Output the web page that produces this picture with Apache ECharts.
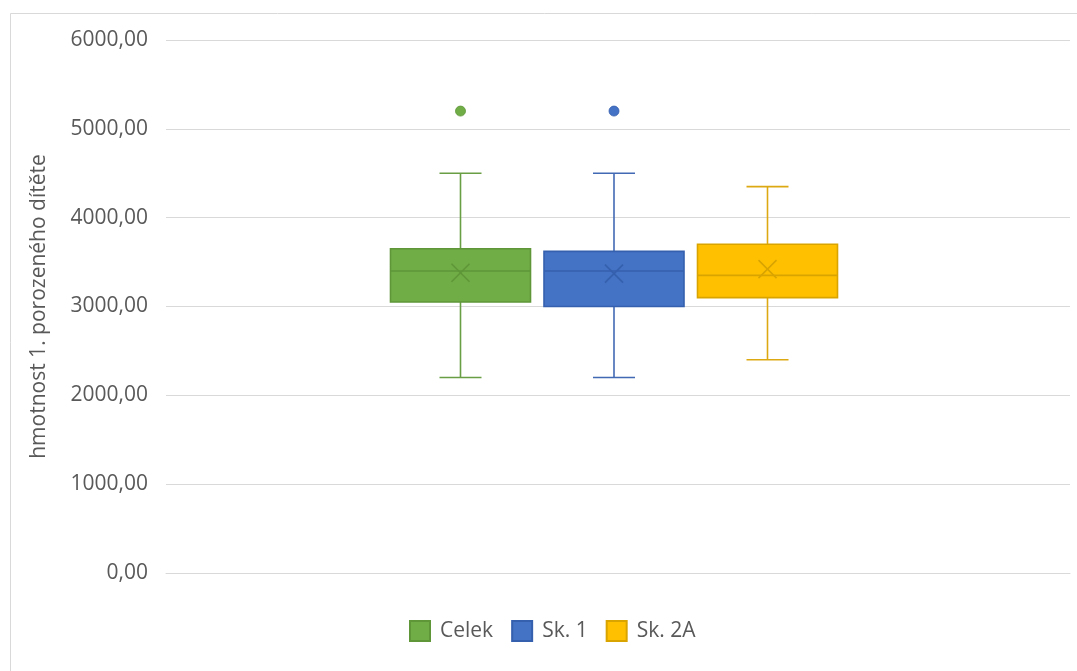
<!DOCTYPE html>
<html>
<head>
<meta charset="utf-8">
<script src="https://cdn.jsdelivr.net/npm/echarts@6/dist/echarts.min.js"></script>
<style>html,body{margin:0;padding:0;background:#fff;}#c{width:1077px;height:671px;}</style>
</head>
<body>
<div id="c"></div>
<script>
// Data
const categories = [''];
const seriesNames = ['Celek', 'Sk. 1', 'Sk. 2A'];
// [min, Q1, median, Q3, max, mean]
const celekStats = [2200, 3050, 3400, 3650, 4500, 3380];
const sk1Stats   = [2200, 3000, 3400, 3620, 4500, 3370];
const sk2aStats  = [2400, 3100, 3350, 3700, 4350, 3420];
const celekOutliers = [5200];
const sk1Outliers   = [5200];
const sk2aOutliers  = [];
const yTicks = { min: 0, max: 6000, interval: 1000 };

const fills    = ['#70AD47', '#4472C4', '#FFC000'];
const borders  = ['#5E9638', '#3560AE', '#D9A400'];
const whiskers = ['#6A9E44', '#4269B4', '#DCA912'];
const offsets  = [-157.5, -4, 149.5];
const boxW = 140, capW = 42;

const statsList = [celekStats, sk1Stats, sk2aStats];
const outList = [celekOutliers, sk1Outliers, sk2aOutliers];

function makeRender(idx) {
  return function (params, api) {
    const cx = api.coord([api.value(0), 0])[0] + offsets[idx];
    const y = v => api.coord([api.value(0), v])[1];
    const yMin = y(api.value(1)), yQ1 = y(api.value(2)), yMed = y(api.value(3)),
          yQ3 = y(api.value(4)), yMax = y(api.value(5)), yMean = y(api.value(6));
    const hw = boxW / 2, hc = capW / 2, m = 9;
    const wl = { stroke: whiskers[idx], lineWidth: 1.6 };
    const bl = { stroke: borders[idx], lineWidth: 1.6 };
    const children = [
      { type: 'line', shape: { x1: cx, y1: yQ3, x2: cx, y2: yMax }, style: wl },
      { type: 'line', shape: { x1: cx, y1: yQ1, x2: cx, y2: yMin }, style: wl },
      { type: 'line', shape: { x1: cx - hc, y1: yMax, x2: cx + hc, y2: yMax }, style: wl },
      { type: 'line', shape: { x1: cx - hc, y1: yMin, x2: cx + hc, y2: yMin }, style: wl },
      { type: 'rect', shape: { x: cx - hw, y: yQ3, width: boxW, height: yQ1 - yQ3 },
        style: { fill: fills[idx], stroke: borders[idx], lineWidth: 1.6 } },
      { type: 'line', shape: { x1: cx - hw, y1: yMed, x2: cx + hw, y2: yMed }, style: bl },
      { type: 'line', shape: { x1: cx - m, y1: yMean - m, x2: cx + m, y2: yMean + m }, style: bl },
      { type: 'line', shape: { x1: cx - m, y1: yMean + m, x2: cx + m, y2: yMean - m }, style: bl }
    ];
    outList[idx].forEach(v => {
      children.push({ type: 'circle', shape: { cx: cx, cy: y(v), r: 5 },
        style: { fill: fills[idx], stroke: borders[idx], lineWidth: 0.8 } });
    });
    return { type: 'group', children: children };
  };
}

const series = seriesNames.map((name, i) => ({
  name: name,
  type: 'custom',
  clip: false,
  itemStyle: { color: fills[i], borderColor: borders[i], borderWidth: 1.5 },
  renderItem: makeRender(i),
  encode: { x: 0, y: [1, 2, 3, 4, 5] },
  data: [[0].concat(statsList[i])]
}));

const chart = echarts.init(document.getElementById('c'));
chart.setOption({
  animation: false,
  backgroundColor: '#fff',
  textStyle: { fontFamily: 'Open Sans' },
  graphic: [{
    type: 'rect', left: 8, top: 11, z: -10,
    shape: { width: 1200, height: 800 },
    style: { fill: 'none', stroke: '#d9d9d9', lineWidth: 1 }
  }],
  grid: { left: 166, right: 7, top: 40, bottom: 98 },
  legend: {
    left: 404, top: 615,
    itemWidth: 20, itemHeight: 20, itemGap: 18,
    icon: 'rect',
    textStyle: { fontSize: 21, color: '#595959', fontFamily: 'Open Sans', padding: [0, 0, 0, 5] },
    data: seriesNames
  },
  xAxis: {
    type: 'category', data: categories,
    axisLine: { show: true, lineStyle: { color: '#d9d9d9', width: 1 } },
    axisTick: { show: false }, axisLabel: { show: false }, splitLine: { show: false }
  },
  yAxis: {
    type: 'value', min: yTicks.min, max: yTicks.max, interval: yTicks.interval,
    name: 'hmotnost 1. porozeného dítěte',
    nameLocation: 'middle', nameGap: 116, nameRotate: 90,
    nameTextStyle: { fontSize: 21, color: '#595959', fontFamily: 'Open Sans' },
    axisLine: { show: false }, axisTick: { show: false },
    axisLabel: { fontSize: 21, color: '#595959', margin: 18, fontFamily: 'Open Sans',
      formatter: v => v.toFixed(2).replace('.', ',') },
    splitLine: { lineStyle: { color: '#d9d9d9', width: 1 } }
  },
  series: series
});
</script>
</body>
</html>
